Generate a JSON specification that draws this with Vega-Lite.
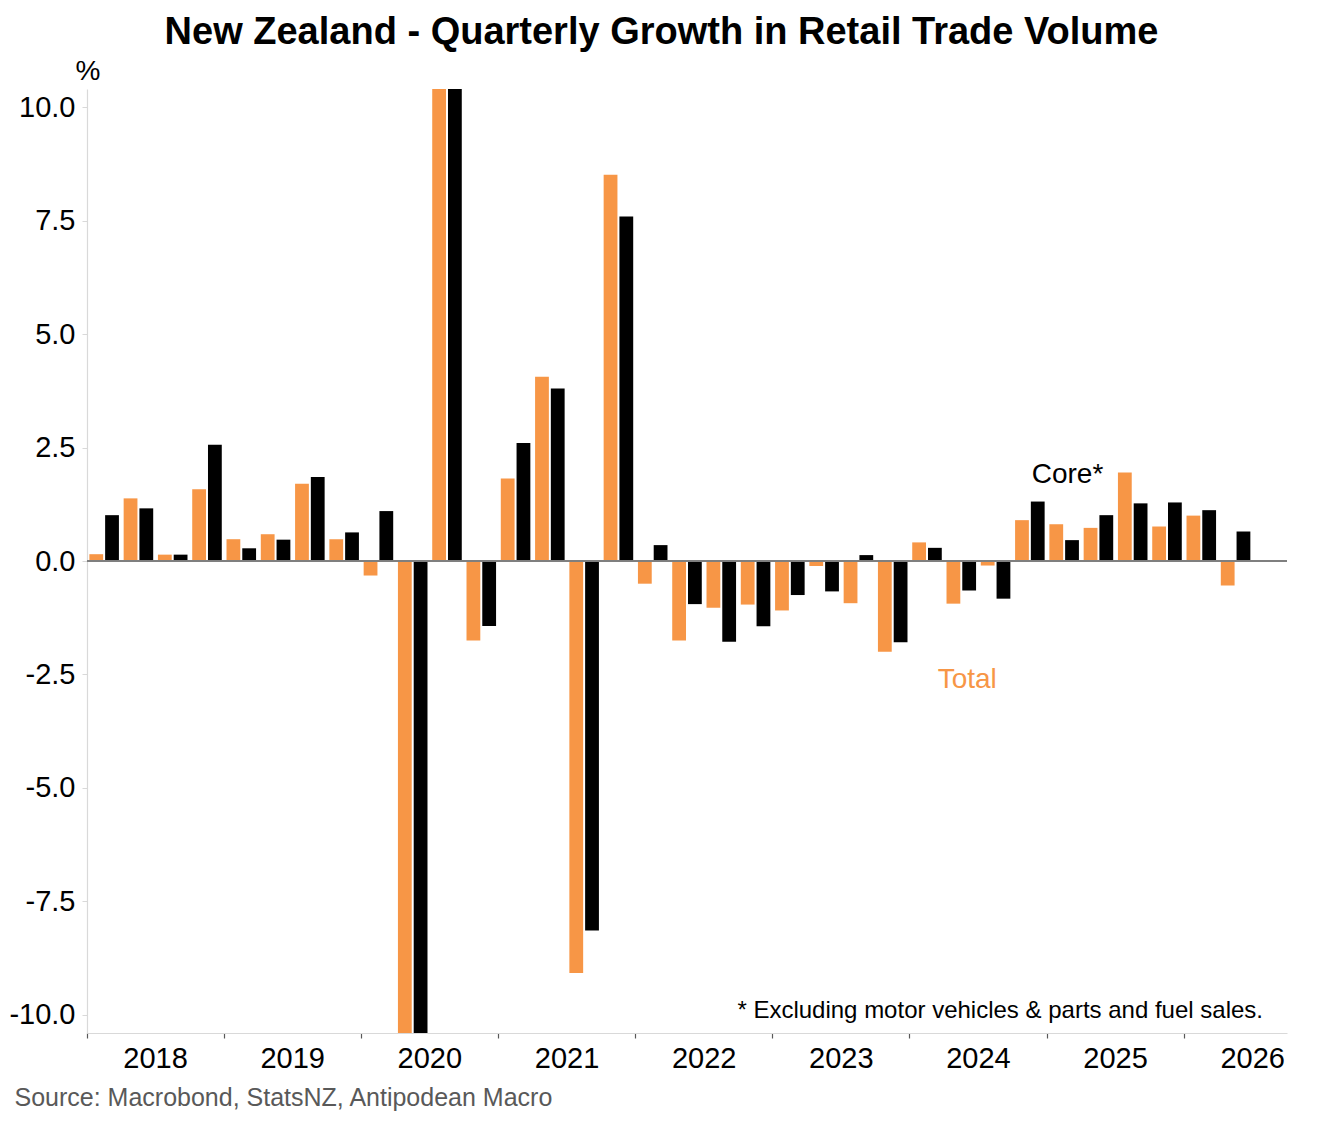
{
  "$schema": "https://vega.github.io/schema/vega-lite/v6.json",
  "description": "New Zealand quarterly growth in retail trade volume, total and core",
  "autosize": {"type": "none"},
  "width": 1200,
  "height": 944,
  "padding": {"left": 87, "top": 89, "right": 36, "bottom": 89},
  "background": "white",
  "config": {
    "font": "Liberation Sans",
    "view": {"stroke": null},
    "axis": {"grid": false, "labelFont": "Liberation Sans", "titleFont": "Liberation Sans"}
  },
  "title": {
    "text": "New Zealand - Quarterly Growth in Retail Trade Volume",
    "font": "Liberation Sans",
    "fontSize": 38,
    "fontWeight": "bold",
    "color": "black",
    "anchor": "middle",
    "frame": "group",
    "dx": -25.5,
    "offset": 5
  },
  "data": {
    "values": [
      {"quarter": "2018Q1", "series": "Total", "value": 0.15},
      {"quarter": "2018Q1", "series": "Core", "value": 1.01},
      {"quarter": "2018Q2", "series": "Total", "value": 1.38},
      {"quarter": "2018Q2", "series": "Core", "value": 1.16},
      {"quarter": "2018Q3", "series": "Total", "value": 0.14},
      {"quarter": "2018Q3", "series": "Core", "value": 0.14},
      {"quarter": "2018Q4", "series": "Total", "value": 1.58},
      {"quarter": "2018Q4", "series": "Core", "value": 2.56},
      {"quarter": "2019Q1", "series": "Total", "value": 0.48},
      {"quarter": "2019Q1", "series": "Core", "value": 0.28},
      {"quarter": "2019Q2", "series": "Total", "value": 0.59},
      {"quarter": "2019Q2", "series": "Core", "value": 0.47},
      {"quarter": "2019Q3", "series": "Total", "value": 1.7},
      {"quarter": "2019Q3", "series": "Core", "value": 1.85},
      {"quarter": "2019Q4", "series": "Total", "value": 0.48},
      {"quarter": "2019Q4", "series": "Core", "value": 0.63},
      {"quarter": "2020Q1", "series": "Total", "value": -0.32},
      {"quarter": "2020Q1", "series": "Core", "value": 1.1},
      {"quarter": "2020Q2", "series": "Total", "value": -14.6},
      {"quarter": "2020Q2", "series": "Core", "value": -13.9},
      {"quarter": "2020Q3", "series": "Total", "value": 28.0},
      {"quarter": "2020Q3", "series": "Core", "value": 27.6},
      {"quarter": "2020Q4", "series": "Total", "value": -1.75},
      {"quarter": "2020Q4", "series": "Core", "value": -1.43},
      {"quarter": "2021Q1", "series": "Total", "value": 1.82},
      {"quarter": "2021Q1", "series": "Core", "value": 2.6},
      {"quarter": "2021Q2", "series": "Total", "value": 4.06},
      {"quarter": "2021Q2", "series": "Core", "value": 3.8},
      {"quarter": "2021Q3", "series": "Total", "value": -9.08},
      {"quarter": "2021Q3", "series": "Core", "value": -8.14},
      {"quarter": "2021Q4", "series": "Total", "value": 8.51},
      {"quarter": "2021Q4", "series": "Core", "value": 7.59},
      {"quarter": "2022Q1", "series": "Total", "value": -0.5},
      {"quarter": "2022Q1", "series": "Core", "value": 0.35},
      {"quarter": "2022Q2", "series": "Total", "value": -1.75},
      {"quarter": "2022Q2", "series": "Core", "value": -0.95},
      {"quarter": "2022Q3", "series": "Total", "value": -1.03},
      {"quarter": "2022Q3", "series": "Core", "value": -1.78},
      {"quarter": "2022Q4", "series": "Total", "value": -0.96},
      {"quarter": "2022Q4", "series": "Core", "value": -1.44},
      {"quarter": "2023Q1", "series": "Total", "value": -1.09},
      {"quarter": "2023Q1", "series": "Core", "value": -0.75},
      {"quarter": "2023Q2", "series": "Total", "value": -0.11},
      {"quarter": "2023Q2", "series": "Core", "value": -0.67},
      {"quarter": "2023Q3", "series": "Total", "value": -0.93},
      {"quarter": "2023Q3", "series": "Core", "value": 0.13},
      {"quarter": "2023Q4", "series": "Total", "value": -2.0},
      {"quarter": "2023Q4", "series": "Core", "value": -1.79},
      {"quarter": "2024Q1", "series": "Total", "value": 0.41},
      {"quarter": "2024Q1", "series": "Core", "value": 0.29},
      {"quarter": "2024Q2", "series": "Total", "value": -0.94},
      {"quarter": "2024Q2", "series": "Core", "value": -0.65},
      {"quarter": "2024Q3", "series": "Total", "value": -0.1},
      {"quarter": "2024Q3", "series": "Core", "value": -0.83},
      {"quarter": "2024Q4", "series": "Total", "value": 0.9},
      {"quarter": "2024Q4", "series": "Core", "value": 1.31},
      {"quarter": "2025Q1", "series": "Total", "value": 0.81},
      {"quarter": "2025Q1", "series": "Core", "value": 0.46},
      {"quarter": "2025Q2", "series": "Total", "value": 0.73},
      {"quarter": "2025Q2", "series": "Core", "value": 1.01},
      {"quarter": "2025Q3", "series": "Total", "value": 1.95},
      {"quarter": "2025Q3", "series": "Core", "value": 1.27},
      {"quarter": "2025Q4", "series": "Total", "value": 0.76},
      {"quarter": "2025Q4", "series": "Core", "value": 1.29},
      {"quarter": "2026Q1", "series": "Total", "value": 1.0},
      {"quarter": "2026Q1", "series": "Core", "value": 1.12},
      {"quarter": "2026Q2", "series": "Total", "value": -0.54},
      {"quarter": "2026Q2", "series": "Core", "value": 0.65}
    ]
  },
  "layer": [
    {
      "mark": {"type": "bar", "clip": true},
      "encoding": {
        "x": {
          "field": "quarter",
          "type": "nominal",
          "scale": {
            "domain": [
              "2018Q1", "2018Q2", "2018Q3", "2018Q4",
              "2019Q1", "2019Q2", "2019Q3", "2019Q4",
              "2020Q1", "2020Q2", "2020Q3", "2020Q4",
              "2021Q1", "2021Q2", "2021Q3", "2021Q4",
              "2022Q1", "2022Q2", "2022Q3", "2022Q4",
              "2023Q1", "2023Q2", "2023Q3", "2023Q4",
              "2024Q1", "2024Q2", "2024Q3", "2024Q4",
              "2025Q1", "2025Q2", "2025Q3", "2025Q4",
              "2026Q1", "2026Q2", "2026Q3"
            ],
            "paddingInner": 0,
            "paddingOuter": 0
          },
          "axis": {
            "title": "Source: Macrobond, StatsNZ, Antipodean Macro",
            "titleFontSize": 25,
            "titleFontWeight": "normal",
            "titleColor": "#595959",
            "titleAnchor": "start",
            "titleAlign": "left",
            "titleBaseline": "alphabetic",
            "titleX": -73,
            "titleY": 72,
            "values": ["2018Q1", "2019Q1", "2020Q1", "2021Q1", "2022Q1", "2023Q1", "2024Q1", "2025Q1", "2026Q1"],
            "bandPosition": 0,
            "labelExpr": "substring(datum.label, 0, 4)",
            "labelAngle": 0,
            "labelAlign": "center",
            "labelBaseline": "alphabetic",
            "labelOffset": 51.43,
            "labelPadding": 29,
            "labelFontSize": 29,
            "labelColor": "black",
            "labelOverlap": false,
            "labelBound": false,
            "tickSize": 5,
            "tickColor": "#595959",
            "tickWidth": 1.2,
            "domainColor": "#d9d9d9",
            "domainWidth": 1.2
          }
        },
        "xOffset": {
          "field": "series",
          "type": "nominal",
          "scale": {"domain": ["Total", "Core"], "paddingInner": 0.125, "paddingOuter": 0.15}
        },
        "y": {
          "field": "value",
          "type": "quantitative",
          "scale": {"domain": [-10.4, 10.4], "nice": false, "zero": false},
          "axis": {
            "title": "%",
            "titleAngle": 0,
            "titleFontSize": 28,
            "titleFontWeight": "normal",
            "titleColor": "black",
            "titleAlign": "center",
            "titleBaseline": "alphabetic",
            "titleX": 0.5,
            "titleY": -10,
            "values": [-10, -7.5, -5, -2.5, 0, 2.5, 5, 7.5, 10],
            "labelExpr": "(datum.value < 0 ? '-' : '') + format(abs(datum.value), '.1f')",
            "labelFontSize": 29,
            "labelColor": "black",
            "labelPadding": 7,
            "labelBaseline": "middle",
            "tickSize": 5,
            "tickColor": "#d9d9d9",
            "domainColor": "#d9d9d9",
            "domainWidth": 1.2
          }
        },
        "color": {
          "field": "series",
          "type": "nominal",
          "scale": {"domain": ["Total", "Core"], "range": ["#F79646", "#000000"]},
          "legend": null
        }
      }
    },
    {
      "mark": {"type": "rule", "color": "#7f7f7f", "strokeWidth": 1.5},
      "encoding": {"y": {"datum": 0}}
    },
    {
      "data": {"values": [{"label": "Core*"}]},
      "mark": {"type": "text", "align": "left", "baseline": "alphabetic", "fontSize": 28, "color": "black"},
      "encoding": {
        "x": {"datum": "2024Q4", "bandPosition": 0.554},
        "y": {"datum": 1.728},
        "text": {"field": "label"}
      }
    },
    {
      "data": {"values": [{"label": "Total"}]},
      "mark": {"type": "text", "align": "left", "baseline": "alphabetic", "fontSize": 28, "color": "#F79646"},
      "encoding": {
        "x": {"datum": "2024Q1", "bandPosition": 0.81},
        "y": {"datum": -2.8},
        "text": {"field": "label"}
      }
    },
    {
      "data": {"values": [{"label": "* Excluding motor vehicles & parts and fuel sales."}]},
      "mark": {"type": "text", "align": "right", "baseline": "alphabetic", "fontSize": 24, "color": "black"},
      "encoding": {
        "x": {"datum": "2026Q3", "bandPosition": 0.3},
        "y": {"datum": -10.075},
        "text": {"field": "label"}
      }
    }
  ]
}
